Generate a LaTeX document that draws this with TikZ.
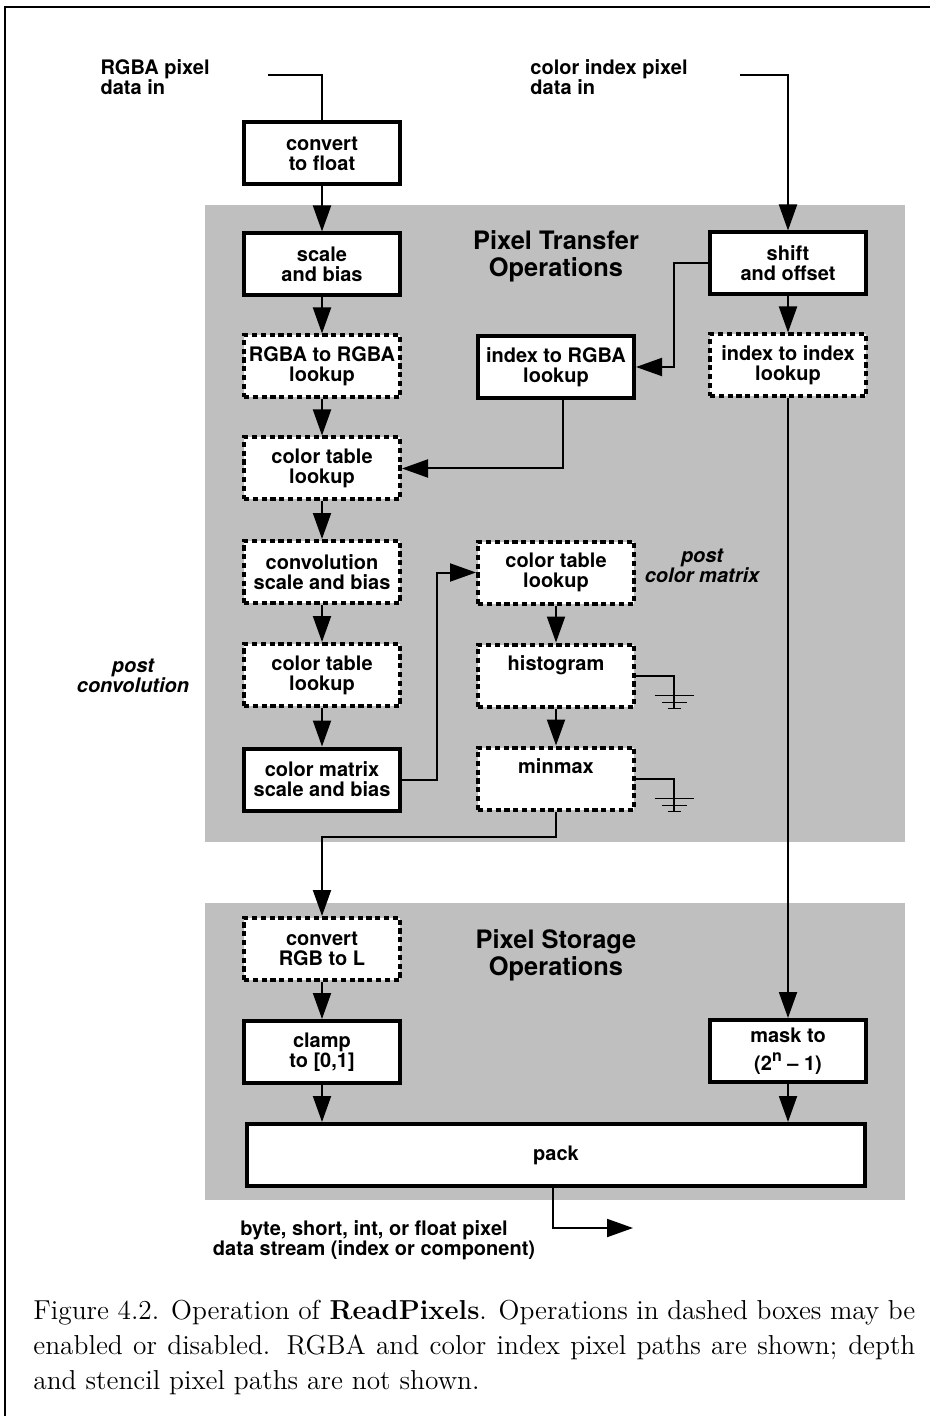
\documentclass[tikz,border=0pt]{standalone}
\usepackage{fontspec}
\newfontfamily\helv{TeX Gyre Heros}
\usetikzlibrary{arrows.meta,calc}

\begin{document}
\begin{tikzpicture}[x=0.5pt,y=-0.5pt,
    every node/.style={font=\helv\bfseries\fontsize{10}{10}\selectfont,
                       align=center,inner sep=0pt},
    op/.style={draw,fill=white,line width=2pt,minimum width=78pt,minimum height=31pt},
    optop/.style={op,dash pattern=on 2.6pt off 1.8pt},
    arr/.style={line width=1pt,-{Triangle[length=13pt,width=9pt]}},
    wire/.style={line width=1pt},
    region/.style={fill=black!25},
    title/.style={font=\helv\bfseries\fontsize{12.7}{13.5}\selectfont},
    note/.style={font=\helv\bfseries\itshape\fontsize{10}{10}\selectfont}]
  \useasboundingbox (0,0) rectangle (930,1416);
  \draw[line width=1pt] (5,1416) -- (5,7) -- (930,7);

  % shaded regions
  \fill[region] (205,205) rectangle (905,842);
  \fill[region] (205,903) rectangle (905,1200);
  \node[title] (xferlbl) at (556,256.5) {Pixel Transfer\\Operations};
  \node[title] (storlbl) at (556,955.5) {Pixel Storage\\Operations};

  % RGBA path
  \node[op]    (conv)   at (322,153.5) {convert\\to float};
  \node[op]    (scale)  at (322,264.5) {scale\\and bias};
  \node[optop] (rgba)   at (322,366.5) {RGBA to RGBA\\lookup};
  \node[optop] (ctab1)  at (322,468.5) {color table\\lookup};
  \node[optop] (convo)  at (322,572)   {convolution\\scale and bias};
  \node[optop] (ctab2)  at (322,675)   {color table\\lookup};
  \node[op]    (cmat)   at (322,779.5) {color matrix\\scale and bias};
  \node[optop] (rgbl)   at (322,949)   {convert\\RGB to L};
  \node[op]    (clamp)  at (322,1052)  {clamp\\to [0,1]};

  % middle column
  \node[op]    (idxrgba) at (556,367)   {index to RGBA\\lookup};
  \node[optop] (ctab3)   at (556,572.5) {color table\\lookup};
  \node[optop] (hist)    at (556,675.5) {histogram\\\phantom{g}};
  \node[optop] (minmax)  at (556,778.5) {minmax\\\phantom{g}};

  % color index path
  \node[op]    (shift)  at (788,263.5) {shift\\and offset};
  \node[optop] (idxidx) at (788,365.5) {index to index\\lookup};
  \node[op]    (mask)   at (788,1051)  {mask to\\[4pt](2\raisebox{4.5pt}{\fontsize{8}{8}\selectfont n} \textendash{} 1)};

  \node[op,minimum width=309pt] (pack) at (556,1155) {pack};

  \node[note] (postconv) at (133,675.5) {post\\convolution};
  \node[note] (postcmat) at (702,566)   {post\\color matrix};

  \node[anchor=east,align=left] (rgbalbl) at (210,77) {RGBA pixel\\data in};
  \node[anchor=east,align=left] (cilbl)   at (688,77) {color index pixel\\data in};
  \coordinate (rgbain) at (268,75);
  \coordinate (ciin)   at (740,75);
  \draw[wire] (rgbain) -| (conv.north);
  \draw[arr] (ciin) -| (shift.north);

  \draw[arr] (conv) -- (scale);
  \draw[arr] (scale) -- (rgba);
  \draw[arr] (rgba) -- (ctab1);
  \draw[arr] (ctab1) -- (convo);
  \draw[arr] (convo) -- (ctab2);
  \draw[arr] (ctab2) -- (cmat);
  \draw[arr] (rgbl) -- (clamp);
  \draw[arr] (clamp) -- (clamp.south |- pack.north);

  \draw[arr] (shift.west) -- ++(-34,0) |- (idxrgba.east);
  \draw[arr] (shift) -- (idxidx);
  \draw[arr] (idxidx) -- (mask);
  \draw[arr] (mask) -- (mask.south |- pack.north);
  \draw[arr] ($(idxrgba.south)+(7,0)$) |- (ctab1.east);

  \draw[arr] (cmat.east) -- ++(35,0) |- (ctab3.west);
  \draw[arr] (ctab3) -- (hist);
  \draw[arr] (hist) -- (minmax);
  \draw[arr] (minmax.south) -- ++(0,25) -| (rgbl.north);

  % sinks
  \foreach \n in {hist,minmax}{
    \draw[wire] (\n.east) -- ++(38,0) coordinate (g\n) -- ++(0,33);
    \draw[line width=0.7pt] ($(g\n)+(-19.5,20)$) -- ++(39,0)
      ($(g\n)+(-12.5,27)$) -- ++(25,0) ($(g\n)+(-6.5,33)$) -- ++(13,0);
  }

  \coordinate (out) at (633,1228);
  \draw[arr] ($(pack.south)+(-3,0)$) |- (out);
  \node (outlbl) at (374,1240) {byte, short, int, or float pixel\\data stream (index or component)};

  \node[anchor=north west,text width=441pt,align=justify,
        font=\rmfamily\fontsize{13.7}{17.5}\selectfont] (cap) at (33,1300)
    {Figure 4.2. Operation of \textbf{ReadPixels}. Operations in dashed boxes may be
     enabled or disabled. RGBA and color index pixel paths are shown; depth
     and stencil pixel paths are not shown.};
\end{tikzpicture}
\end{document}
